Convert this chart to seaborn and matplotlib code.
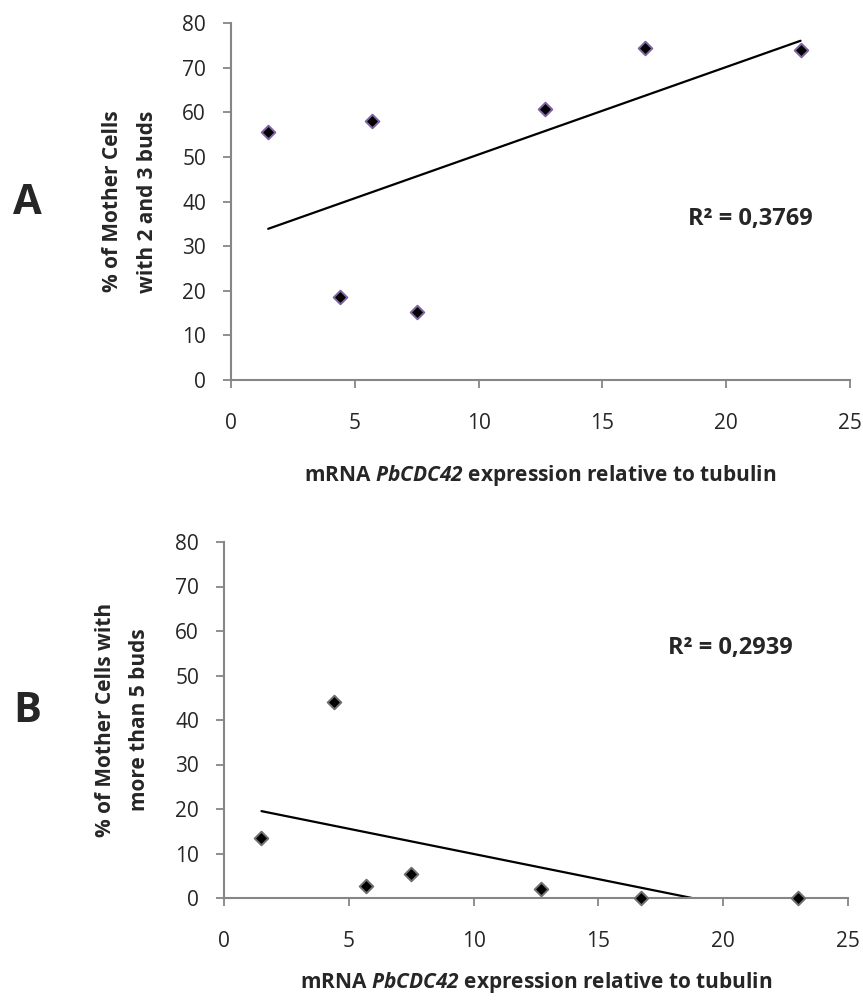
import numpy as np
import pandas as pd
import matplotlib
matplotlib.use("Agg")
import matplotlib.pyplot as plt
import seaborn as sns

# data
expr = [1.5, 4.4, 5.7, 7.5, 12.7, 16.7, 23.0]
buds_2_3 = [55.5, 18.7, 58.0, 15.3, 60.7, 74.5, 74.0]
buds_gt5 = [13.5, 44.0, 2.7, 5.4, 2.0, 0.0, 0.0]
r2_labels = ["R² = 0,3769", "R² = 0,2939"]
ylabels = ["% of Mother Cells\nwith 2 and 3 buds", "% of Mother Cells with\nmore than 5 buds"]
xticks = [0, 5, 10, 15, 20, 25]
yticks = [0, 10, 20, 30, 40, 50, 60, 70, 80]

sns.set_theme(style="white")
plt.rcParams["font.family"] = ["Open Sans", "DejaVu Sans"]
plt.rcParams["mathtext.fontset"] = "custom"
plt.rcParams["mathtext.it"] = "Open Sans:italic:bold"
plt.rcParams["mathtext.rm"] = "Open Sans:italic:bold"

df_a = pd.DataFrame({"expr": expr, "pct": buds_2_3})
df_b = pd.DataFrame({"expr": expr, "pct": buds_gt5})

fig = plt.figure(figsize=(8.63, 10), dpi=100)
ax_a = fig.add_axes([0.2677, 0.620, 0.7173, 0.357])
ax_b = fig.add_axes([0.2596, 0.102, 0.7231, 0.356])

panels = [
    (ax_a, df_a, "#8064a2", r2_labels[0], ylabels[0], (23.5, 36.1), "A", 0.797, -0.268),
    (ax_b, df_b, "#707070", r2_labels[1], ylabels[1], (22.8, 56.2), "B", 0.288, -0.236),
]

for ax, d, edge, r2, ylab, r2pos, letter, letter_y, xlab_y in panels:
    # linear trendline (Excel style) over the data range
    sns.regplot(data=d, x="expr", y="pct", ax=ax, scatter=False, ci=None,
                truncate=True, line_kws={"color": "black", "lw": 1.6})
    sns.scatterplot(data=d, x="expr", y="pct", ax=ax, marker="D", s=48,
                    color="black", edgecolor=edge, linewidth=1.4, zorder=3,
                    clip_on=False)
    ax.set_xlim(0, 25)
    ax.set_ylim(0, 80)
    ax.set_xticks(xticks)
    ax.set_yticks(yticks)
    ax.tick_params(axis="both", labelsize=15, length=6, width=1.3,
                   color="#868686", direction="out", bottom=True, left=True)
    ax.tick_params(axis="x", pad=18)
    ax.tick_params(axis="y", pad=12)
    for s in ["top", "right"]:
        ax.spines[s].set_visible(False)
    for s in ["left", "bottom"]:
        ax.spines[s].set_color("#868686")
        ax.spines[s].set_linewidth(1.5)
    ax.set_ylabel(ylab, fontsize=15, fontweight="bold", linespacing=1.85,
                  ha="center", va="center")
    ax.yaxis.set_label_coords(-0.163, 0.5)
    ax.set_xlabel("mRNA $PbCDC42$ expression relative to tubulin",
                  fontsize=15, fontweight="bold", va="center")
    ax.xaxis.set_label_coords(0.5, xlab_y)
    ax.text(r2pos[0], r2pos[1], r2, ha="right", va="center", fontsize=17,
            fontweight="bold")
    fig.text(0.015, letter_y, letter, fontsize=30, fontweight="bold",
             ha="left", va="center")

fig.savefig("out.png", dpi=100)
